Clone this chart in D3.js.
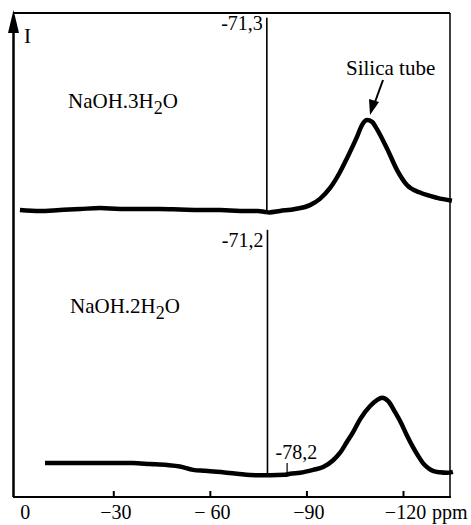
<!DOCTYPE html>
<html>
<head>
<meta charset="utf-8">
<script src="https://cdn.jsdelivr.net/npm/d3@7"></script>
<style>
  body { margin: 0; background: #fff; }
  text { font-family: 'Liberation Serif', 'Times New Roman', serif; fill: #000; }
</style>
</head>
<body>
<div id="chart"></div>
<script>
// chemical shift axis (ppm) and intensities (arbitrary units, 0..100 full height)
var tickValues = [0, -30, -60, -90, -120];
var tickLabels = ["0", "\u221230", "\u2212 60", "\u221290", "\u2212120"];

// NaOH.3H2O trace
var ppm3 = [-1.0, -7.2, -13.4, -19.7, -25.9, -32.1, -38.3, -44.5, -50.7, -56.9, -63.2, -69.4, -75.0, -77.1,
            -78.4, -81.8, -86.5, -91.1, -94.2, -97.3, -100.4, -102.6, -105.7, -107.3, -108.8, -110.4,
            -111.9, -115.1, -118.2, -121.3, -125.3, -130.6, -135.2];
var int3 = [59.3, 59.1, 59.3, 59.5, 59.7, 59.5, 59.5, 59.5, 59.4, 59.3, 59.3, 59.1, 59.1, 58.9,
            58.8, 59.1, 59.5, 60.3, 61.6, 63.8, 67.1, 70.0, 74.4, 76.9, 77.9, 77.5,
            76.0, 71.9, 67.5, 64.4, 62.9, 61.8, 61.2];

// NaOH.2H2O trace
var ppm2 = [-8.8, -16.6, -25.9, -36.1, -41.4, -46.7, -50.7, -54.8, -58.5, -62.2, -68.4, -74.7, -77.1,
            -78.7, -83.4, -84.9, -88.0, -92.1, -95.2, -98.3, -100.4, -102.6, -104.5, -106.7, -109.8,
            -111.9, -113.5, -115.4, -117.5, -119.1, -121.3, -123.1, -124.7, -126.2, -127.8, -129.3,
            -131.5, -133.7, -135.5];
var int2 = [7.0, 7.0, 7.0, 7.0, 6.8, 6.6, 6.3, 5.6, 5.4, 5.2, 4.8, 4.5, 4.5,
            4.5, 4.6, 4.8, 5.0, 5.6, 6.2, 7.6, 9.1, 11.4, 13.4, 16.1, 18.8,
            20.0, 20.5, 19.8, 17.6, 15.7, 12.6, 10.3, 8.5, 7.0, 6.0, 5.4,
            5.1, 5.0, 5.2];

// sharp lines: position, foot, top, label
var linePpm = [-77.7, -77.9, -84.0];
var lineFoot = [58.8, 4.5, 4.7];
var lineTop = [99.0, 55.2, 7.0];
var lineLabels = ["-71,3", "-71,2", "-78,2"];

var width = 471, height = 525;
var svg = d3.select("#chart").append("svg")
  .attr("width", width).attr("height", height);

var x = d3.scaleLinear().domain([0, -134.6]).range([16.7, 450]);
var y = d3.scaleLinear().domain([0, 100]).range([497, 13]);

// frame
svg.append("line").attr("x1", 13).attr("x2", 450).attr("y1", 13).attr("y2", 13)
  .attr("stroke", "#000").attr("stroke-width", 2);
svg.append("line").attr("x1", 450).attr("x2", 450).attr("y1", 13).attr("y2", 497)
  .attr("stroke", "#000").attr("stroke-width", 1.5);
svg.append("line").attr("x1", 13).attr("x2", 451).attr("y1", 497).attr("y2", 497)
  .attr("stroke", "#000").attr("stroke-width", 2);
svg.append("line").attr("x1", 13.5).attr("x2", 13.5).attr("y1", 497).attr("y2", 25)
  .attr("stroke", "#000").attr("stroke-width", 2.5);
svg.append("path").attr("d", "M13.5,10 L8,33 L19,33 Z").attr("fill", "#000");
svg.append("text").attr("x", 24).attr("y", 43).style("font-size", "21px").text("I");

// bottom axis, ticks pointing inward
var xAxis = d3.axisBottom(x).tickValues(tickValues).tickSizeInner(-6).tickSizeOuter(0)
  .tickFormat(function (d, i) { return tickLabels[i]; });
var gx = svg.append("g").attr("transform", "translate(0,497)").call(xAxis);
gx.select(".domain").remove();
gx.selectAll(".tick line").attr("stroke-width", 2);
gx.selectAll(".tick").filter(function (d) { return d === 0; }).select("line").remove();
gx.selectAll(".tick text")
  .attr("y", 22).attr("dy", 0)
  .style("font-family", "'Liberation Serif', serif").style("font-size", "20px")
  .attr("dx", function (d) { return d === 0 ? 8 : 2; });
svg.append("text").attr("x", 432).attr("y", 519).style("font-size", "20px").text("ppm");

// traces
var line = d3.line().x(function (d) { return x(d[0]); }).y(function (d) { return y(d[1]); })
  .curve(d3.curveMonotoneX);
svg.append("path").datum(d3.zip(ppm3, int3).reverse()).attr("d", line)
  .attr("fill", "none").attr("stroke", "#000").attr("stroke-width", 4.5);
svg.append("path").datum(d3.zip(ppm2, int2).reverse()).attr("d", line)
  .attr("fill", "none").attr("stroke", "#000").attr("stroke-width", 4.5);

// sharp resonances
linePpm.forEach(function (p, i) {
  svg.append("line").attr("x1", x(p)).attr("x2", x(p))
    .attr("y1", y(lineFoot[i])).attr("y2", y(lineTop[i]))
    .attr("stroke", "#000").attr("stroke-width", i === 2 ? 1.2 : 1.6);
});
svg.append("text").attr("x", x(linePpm[0]) - 4).attr("y", 30).attr("text-anchor", "end")
  .style("font-size", "20px").text(lineLabels[0]);
svg.append("text").attr("x", x(linePpm[1]) - 4).attr("y", 247).attr("text-anchor", "end")
  .style("font-size", "20px").text(lineLabels[1]);
svg.append("text").attr("x", x(linePpm[1]) + 8).attr("y", 459)
  .style("font-size", "20px").text(lineLabels[2]);

// sample names
function formula(xp, yp, n) {
  var t = svg.append("text").attr("x", xp).attr("y", yp).style("font-size", "21px");
  t.append("tspan").text("NaOH." + n + "H");
  t.append("tspan").attr("dy", 6).style("font-size", "18px").text("2");
  t.append("tspan").attr("dy", -6).text("O");
}
formula(68, 108, 3);
formula(70, 313, 2);

// silica tube annotation
svg.append("text").attr("x", 346).attr("y", 75).style("font-size", "21px").text("Silica tube");
svg.append("line").attr("x1", 383).attr("y1", 80).attr("x2", 375).attr("y2", 102)
  .attr("stroke", "#000").attr("stroke-width", 2);
svg.append("path").attr("d", "M370,115 L369,99 L379,102 Z").attr("fill", "#000");
</script>
</body>
</html>
